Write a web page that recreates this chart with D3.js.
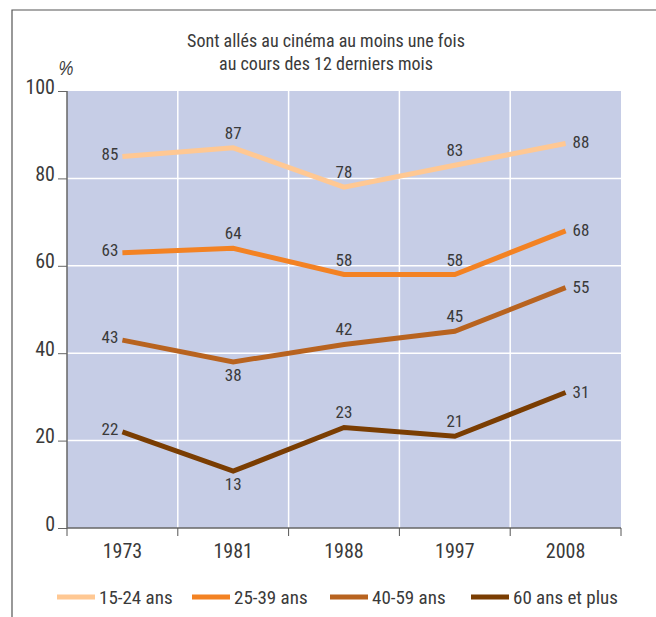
<!DOCTYPE html>
<html>
<head>
<meta charset="utf-8">
<script src="https://d3js.org/d3.v7.min.js"></script>
<style>
body { margin: 0; background: #fff; }
text { font-family: "Liberation Sans Narrow", "Roboto Condensed", "DejaVu Sans Condensed", sans-serif; fill: #3a3a3a; }
</style>
</head>
<body>
<script>

// data
var years = ["1973", "1981", "1988", "1997", "2008"];
var groups = ["15-24 ans", "25-39 ans", "40-59 ans", "60 ans et plus"];
var colors = ["#ffc893", "#f38223", "#b8631f", "#7a3d02"];
var values = [
  [85, 87, 78, 83, 88],
  [63, 64, 58, 58, 68],
  [43, 38, 42, 45, 55],
  [22, 13, 23, 21, 31]
];
// where each value label sits: l = left, a = above, b = below, r = right
var labelSide = [
  ["l", "a", "a", "a", "r"],
  ["l", "a", "a", "a", "r"],
  ["l", "b", "a", "a", "r"],
  ["l", "b", "a", "a", "r"]
];
var yTicks = [0, 20, 40, 60, 80, 100];
var titleLines = ["Sont allés au cinéma au moins une fois", "au cours des 12 derniers mois"];

var W = 656, H = 617;
var pL = 67, pR = 621, pT = 91, pB = 528;

var svg = d3.select("body").append("svg")
    .attr("width", W)
    .attr("height", H);

// frame (top + left)
svg.append("path")
    .attr("d", "M12," + H + "V10H" + W)
    .attr("fill", "none")
    .attr("stroke", "#555")
    .attr("stroke-width", 1.2);

var x = d3.scaleBand().domain(years).range([pL, pR]).padding(0);
var y = d3.scaleLinear().domain([0, 100]).range([pB, pT]);
var cx = function(yr) { return x(yr) + x.bandwidth() / 2; };

// plot background
svg.append("rect")
    .attr("x", pL).attr("y", pT)
    .attr("width", pR - pL).attr("height", pB - pT)
    .attr("fill", "#c6cde6");

// grid
svg.selectAll(".hgrid")
    .data(yTicks.slice(1, -1))
  .enter().append("line")
    .attr("x1", pL).attr("x2", pR)
    .attr("y1", function(d) { return y(d); })
    .attr("y2", function(d) { return y(d); })
    .attr("stroke", "#fff")
    .attr("stroke-width", 1.5);

svg.selectAll(".vgrid")
    .data(years.slice(1))
  .enter().append("line")
    .attr("x1", function(d) { return x(d); })
    .attr("x2", function(d) { return x(d); })
    .attr("y1", pT).attr("y2", pB)
    .attr("stroke", "#fff")
    .attr("stroke-width", 1.5);

// y axis
var yAxis = d3.axisLeft(y).tickValues(yTicks).tickSize(9).tickPadding(3);
var gy = svg.append("g")
    .attr("transform", "translate(" + pL + ",0)")
    .call(yAxis);
gy.select(".domain").attr("stroke", "#666").attr("stroke-width", 1.5).attr("d", "M0," + pT + "V" + pB);
gy.selectAll(".tick line").attr("stroke", "#666");
gy.selectAll(".tick text").style("font-size", "20px").attr("fill", "#3a3a3a").attr("dy", "0.1em");

// x axis: ticks on band edges, labels centred
var gx = svg.append("g");
gx.append("line")
    .attr("x1", pL).attr("x2", pR)
    .attr("y1", pB).attr("y2", pB)
    .attr("stroke", "#666").attr("stroke-width", 1.5);
gx.selectAll(".xt")
    .data(years.concat(["end"]))
  .enter().append("line")
    .attr("x1", function(d) { return d == "end" ? pR : x(d); })
    .attr("x2", function(d) { return d == "end" ? pR : x(d); })
    .attr("y1", pB).attr("y2", pB + 8)
    .attr("stroke", "#555");
gx.selectAll(".xl")
    .data(years)
  .enter().append("text")
    .attr("x", function(d) { return cx(d); })
    .attr("y", pB + 30)
    .attr("text-anchor", "middle")
    .style("font-size", "20px")
    .text(function(d) { return d; });

// title
svg.selectAll(".title")
    .data(titleLines)
  .enter().append("text")
    .attr("x", 326)
    .attr("y", function(d, i) { return 47 + i * 23; })
    .attr("text-anchor", "middle")
    .style("font-size", "18px")
    .text(function(d) { return d; });

svg.append("text")
    .attr("transform", "translate(66,75) scale(0.8,1)")
    .attr("text-anchor", "middle")
    .style("font-family", "'Liberation Sans', 'DejaVu Sans', sans-serif")
    .style("font-size", "21px")
    .style("font-style", "italic")
    .text("%");

// lines
var line = d3.line()
    .x(function(d, i) { return cx(years[i]); })
    .y(function(d) { return y(d); });

svg.selectAll(".series")
    .data(values)
  .enter().append("path")
    .attr("d", line)
    .attr("fill", "none")
    .attr("stroke", function(d, i) { return colors[i]; })
    .attr("stroke-width", 5);

// value labels
values.forEach(function(s, si) {
  s.forEach(function(v, i) {
    var side = labelSide[si][i];
    var px = cx(years[i]), py = y(v);
    var t = svg.append("text").style("font-size", "17px").text(v);
    if (side == "l") t.attr("x", px - 4).attr("y", py + 3).attr("text-anchor", "end");
    if (side == "r") t.attr("x", px + 7).attr("y", py + 5).attr("text-anchor", "start");
    if (side == "a") t.attr("x", px).attr("y", py - 9).attr("text-anchor", "middle");
    if (side == "b") t.attr("x", px).attr("y", py + 19).attr("text-anchor", "middle");
  });
});

// legend
var legX = [57, 192, 330, 471];
var leg = svg.selectAll(".legend")
    .data(groups)
  .enter().append("g")
    .attr("transform", function(d, i) { return "translate(" + legX[i] + ",597)"; });
leg.append("line")
    .attr("x1", 0).attr("x2", 38)
    .attr("stroke", function(d, i) { return colors[i]; })
    .attr("stroke-width", 5);
leg.append("text")
    .attr("x", 42).attr("y", 7)
    .style("font-size", "19px")
    .text(function(d) { return d; });

</script>
</body>
</html>
